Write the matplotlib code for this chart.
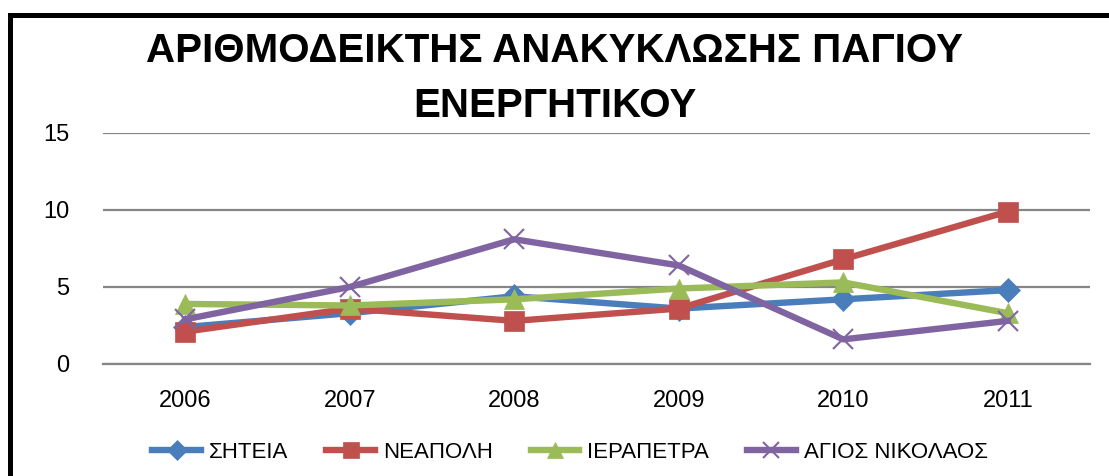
import matplotlib
matplotlib.use("Agg")
import matplotlib.pyplot as plt
from matplotlib.patches import Rectangle
from matplotlib.lines import Line2D

years = ["2006", "2007", "2008", "2009", "2010", "2011"]
siteia = [2.4, 3.3, 4.4, 3.6, 4.2, 4.8]
neapoli = [2.1, 3.6, 2.8, 3.6, 6.8, 9.9]
ierapetra = [3.9, 3.8, 4.2, 4.9, 5.3, 3.3]
agios_nikolaos = [2.9, 5.0, 8.1, 6.4, 1.6, 2.8]
series_names = ["ΣΗΤΕΙΑ", "ΝΕΑΠΟΛΗ", "ΙΕΡΑΠΕΤΡΑ", "ΑΓΙΟΣ ΝΙΚΟΛΑΟΣ"]
y_ticks = [0, 5, 10, 15]

colors = ["#4A7EBB", "#C0504D", "#9BBB59", "#8064A2"]
markers = ["D", "s", "^", "x"]
msizes = [12, 14, 14, 14]

plt.rcParams["font.family"] = ["Liberation Sans", "DejaVu Sans"]

W, H = 1109, 476
fig = plt.figure(figsize=(W / 100, H / 100), dpi=100)

# chart frame (left and top edges visible)
fig.patches.append(Rectangle((9.5 / W, -0.1), 1.2, (H - 14.5) / H + 0.1,
                             transform=fig.transFigure, fill=False,
                             edgecolor="black", linewidth=3.6))

ax = fig.add_axes([103 / W, 1 - 364 / H, (1090 - 103) / W, (364 - 133) / H])

x = list(range(len(years)))
for vals, c, m, ms, name in zip([siteia, neapoli, ierapetra, agios_nikolaos],
                                colors, markers, msizes, series_names):
    ax.plot(x, vals, color=c, linewidth=4.6, marker=m, markersize=ms,
            markeredgewidth=1.5 if m == "x" else 0.5, markeredgecolor=c,
            markerfacecolor=c, label=name, solid_joinstyle="round", zorder=3)

ax.set_xlim(-0.5, len(years) - 0.5)
ax.set_ylim(0, 15)
ax.set_yticks(y_ticks)
ax.set_xticks(x)
ax.set_xticklabels(years)
ax.yaxis.grid(True, color="#868686", linewidth=1.6)
ax.set_axisbelow(True)
for s in ["left", "right", "top"]:
    ax.spines[s].set_visible(False)
ax.spines["bottom"].set_color("#868686")
ax.spines["bottom"].set_linewidth(1.6)
ax.tick_params(axis="both", length=0, labelsize=17)
ax.tick_params(axis="y", pad=24)
ax.tick_params(axis="x", pad=19)

title_font = ["Liberation Sans", "DejaVu Sans"]
fig.text(0.5, 1 - 51 / H, "ΑΡΙΘΜΟΔΕΙΚΤΗΣ ΑΝΑΚΥΚΛΩΣΗΣ ΠΑΓΙΟΥ", ha="center",
         va="center", fontsize=29, fontweight="bold", family=title_font)
fig.text(0.5, 1 - 106 / H, "ΕΝΕΡΓΗΤΙΚΟΥ", ha="center", va="center",
         fontsize=29, fontweight="bold", family=title_font)

handles = [Line2D([], [], color=c, linewidth=4.6, marker=m, markersize=ms * 0.85,
                  markeredgewidth=1.5 if m == "x" else 0.5, markeredgecolor=c,
                  markerfacecolor=c)
           for c, m, ms in zip(colors, markers, msizes)]
fig.legend(handles, series_names, loc="center", bbox_to_anchor=(0.514, 1 - 452 / H),
           ncol=4, frameon=False, fontsize=16, handlelength=2.2,
           handletextpad=0.35, columnspacing=1.7)

fig.savefig("out.png", dpi=100)
